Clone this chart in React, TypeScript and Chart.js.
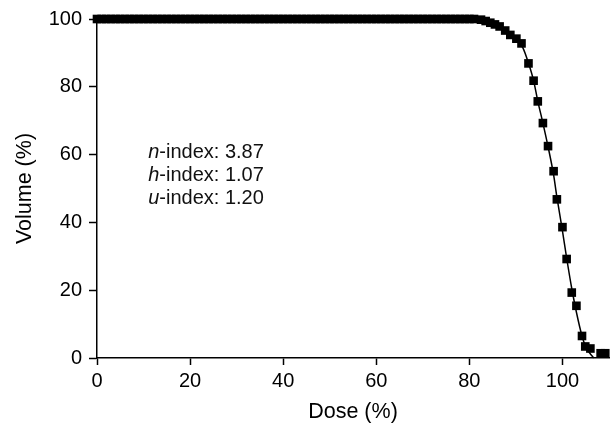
import React, { useEffect, useRef } from "react";
import { Chart, registerables } from "chart.js";

Chart.register(...registerables);

// Measured dose-volume points: plateau at 100 % volume, then the fall-off
const plateauDose = [
  0, 1, 2, 3, 4, 5, 6, 7, 8, 9, 10, 11, 12, 13, 14, 15, 16, 17, 18, 19, 20,
  21, 22, 23, 24, 25, 26, 27, 28, 29, 30, 31, 32, 33, 34, 35, 36, 37, 38, 39, 40,
  41, 42, 43, 44, 45, 46, 47, 48, 49, 50, 51, 52, 53, 54, 55, 56, 57, 58, 59, 60,
  61, 62, 63, 64, 65, 66, 67, 68, 69, 70, 71, 72, 73, 74, 75, 76, 77, 78, 79, 80, 81,
];
const plateauVolume = [
  100, 100, 100, 100, 100, 100, 100, 100, 100, 100, 100, 100, 100, 100, 100, 100, 100, 100, 100, 100, 100,
  100, 100, 100, 100, 100, 100, 100, 100, 100, 100, 100, 100, 100, 100, 100, 100, 100, 100, 100, 100,
  100, 100, 100, 100, 100, 100, 100, 100, 100, 100, 100, 100, 100, 100, 100, 100, 100, 100, 100, 100,
  100, 100, 100, 100, 100, 100, 100, 100, 100, 100, 100, 100, 100, 100, 100, 100, 100, 100, 100, 100, 100,
];
const falloffDose = [
  82.5, 83.5, 84.5, 85.5, 86.5, 87.7, 88.8, 90.1, 91.2, 92.7, 93.8, 94.7, 95.8,
  96.9, 98.1, 98.8, 100.0, 100.9, 102.0, 103.0, 104.2, 104.9, 106.0, 108.2, 109.2,
];
const falloffVolume = [
  99.8, 99.4, 98.9, 98.4, 97.8, 96.6, 95.3, 94.2, 92.8, 86.9, 81.8, 75.7, 69.3,
  62.5, 55.1, 46.8, 38.6, 29.2, 19.3, 15.4, 6.5, 3.4, 2.8, 1.4, 1.4,
];

// Fitted curve through the measurements
const fitDose = [
  0, 82, 84, 86, 88, 90, 91.5, 92.7, 93.8, 94.7, 95.8, 96.9, 98.1, 98.8, 100,
  100.9, 102, 103, 104.2, 105, 106.7,
];
const fitVolume = [
  100, 100, 99.2, 98.1, 96.4, 94.0, 91.5, 87, 81.8, 75.8, 69.3, 62.4, 54, 47.5,
  37.5, 29.5, 20.5, 13.5, 6.5, 3.3, 0,
];

const xTicks = [0, 20, 40, 60, 80, 100];
const yTicks = [0, 20, 40, 60, 80, 100];

// Index annotations: italic symbol, plain remainder, anchor in data units
const indexSymbols = ["n", "h", "u"];
const indexTexts = ["-index: 3.87", "-index: 1.07", "-index: 1.20"];
const indexDose = 11;
const indexVolume = [60.6, 53.8, 47.0];

const FONT = "'Liberation Sans', Arial, Helvetica, sans-serif";
const FONT_SIZE = 20;
const TITLE_SIZE = 21.5;

const annotationPlugin = {
  id: "indexAnnotations",
  afterDraw(chart: any) {
    const { ctx, scales } = chart;
    ctx.save();
    ctx.fillStyle = "#111";
    ctx.textBaseline = "middle";
    ctx.textAlign = "left";
    const x0 = scales.x.getPixelForValue(indexDose);
    indexSymbols.forEach((sym, i) => {
      const y = scales.y.getPixelForValue(indexVolume[i]);
      ctx.font = `italic ${FONT_SIZE}px ${FONT}`;
      ctx.fillText(sym, x0, y);
      const w = ctx.measureText(sym).width;
      ctx.font = `${FONT_SIZE}px ${FONT}`;
      ctx.fillText(indexTexts[i], x0 + w, y);
    });
    ctx.restore();
  },
};

export default function App() {
  const canvasRef = useRef<HTMLCanvasElement | null>(null);

  useEffect(() => {
    if (!canvasRef.current) return;
    const points = [
      ...plateauDose.map((d, i) => ({ x: d, y: plateauVolume[i] })),
      ...falloffDose.map((d, i) => ({ x: d, y: falloffVolume[i] })),
    ];
    const fit = fitDose.map((d, i) => ({ x: d, y: fitVolume[i] }));

    const chart = new Chart(canvasRef.current, {
      type: "scatter",
      data: {
        datasets: [
          {
            type: "line",
            data: fit,
            borderColor: "#000",
            borderWidth: 1.5,
            pointRadius: 0,
            cubicInterpolationMode: "monotone",
            clip: false,
            order: 2,
          } as any,
          {
            data: points,
            pointStyle: "rect",
            pointRadius: 6.1,
            pointBackgroundColor: "#000",
            pointBorderWidth: 0,
            showLine: false,
            clip: false,
            order: 1,
          } as any,
        ],
      },
      options: {
        responsive: false,
        animation: false,
        events: [],
        layout: { padding: { top: 15, right: 7, left: 0, bottom: 0 } },
        plugins: {
          legend: { display: false },
          tooltip: { enabled: false },
        },
        scales: {
          x: {
            type: "linear",
            min: 0,
            max: 110,
            afterBuildTicks: (scale: any) => {
              scale.ticks = xTicks.map((v) => ({ value: v }));
            },
            afterFit: (scale: any) => {
              scale.height = 72;
            },
            border: { display: true, color: "#000", width: 1.5 },
            grid: {
              drawOnChartArea: false,
              drawTicks: true,
              tickLength: 7,
              tickColor: "#000",
              tickWidth: 1.5,
            },
            ticks: {
              color: "#000",
              padding: 4,
              maxRotation: 0,
              font: { family: FONT, size: FONT_SIZE },
            },
            title: {
              display: true,
              text: "Dose (%)",
              color: "#000",
              padding: { top: 0, bottom: 5 },
              font: { family: FONT, size: TITLE_SIZE },
            },
          },
          y: {
            type: "linear",
            min: 0,
            max: 100,
            afterBuildTicks: (scale: any) => {
              scale.ticks = yTicks.map((v) => ({ value: v }));
            },
            afterFit: (scale: any) => {
              scale.width = 97;
            },
            border: { display: true, color: "#000", width: 1.5 },
            grid: {
              drawOnChartArea: false,
              drawTicks: true,
              tickLength: 8,
              tickColor: "#000",
              tickWidth: 1.5,
            },
            ticks: {
              color: "#000",
              padding: 7,
              font: { family: FONT, size: FONT_SIZE },
            },
            title: {
              display: true,
              text: "Volume (%)",
              color: "#000",
              padding: { top: 12, bottom: 0 },
              font: { family: FONT, size: TITLE_SIZE },
            },
          },
        },
      },
      plugins: [annotationPlugin],
    } as any);

    return () => chart.destroy();
  }, []);

  return (
    <div style={{ position: "fixed", left: 0, top: 0, width: 616, height: 430, background: "#fff" }}>
      <canvas ref={canvasRef} width={616} height={430} />
    </div>
  );
}
